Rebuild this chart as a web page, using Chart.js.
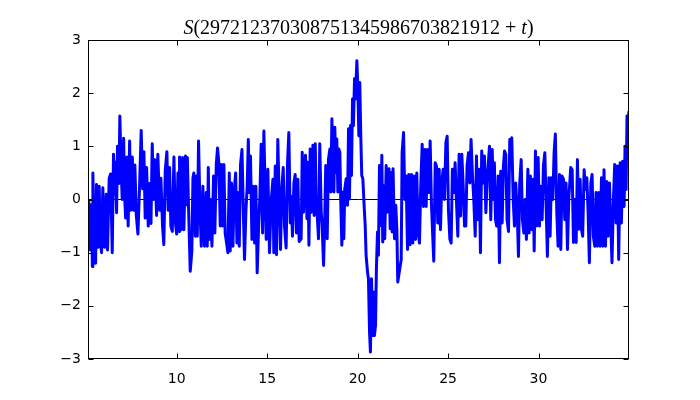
<!DOCTYPE html>
<html>
<head>
<meta charset="utf-8">
<script src="https://cdn.jsdelivr.net/npm/chart.js@4"></script>
<style>
  body { margin: 0; background: #fff; }
</style>
</head>
<body>
<canvas id="sChart" width="700" height="400"></canvas>
<script>
// t offsets and S values
const tValues = [
  5.1, 5.15, 5.23, 5.30, 5.34, 5.37, 5.45, 5.52, 5.57, 5.67, 5.72, 5.78, 5.85, 5.92, 6.02, 6.11, 6.18, 6.27, 6.35, 6.44,
  6.51, 6.59, 6.62, 6.68, 6.73, 6.81, 6.86, 6.94, 6.99, 7.07, 7.12, 7.18, 7.25, 7.32, 7.40, 7.47, 7.55, 7.62, 7.69, 7.77,
  7.86, 7.95, 8.04, 8.12, 8.19, 8.26, 8.34, 8.43, 8.50, 8.58, 8.65, 8.72, 8.80, 8.89, 8.96, 9.06, 9.13, 9.22, 9.29, 9.37,
  9.46, 9.53, 9.61, 9.68, 9.76, 9.85, 9.92, 10.00, 10.07, 10.14,
  10.16, 10.25, 10.33, 10.40, 10.49, 10.54, 10.59, 10.66, 10.75, 10.84, 10.90, 10.95, 11.03, 11.10, 11.14, 11.21, 11.29, 11.36, 11.45, 11.54,
  11.64, 11.69, 11.75, 11.80, 11.87, 11.95, 12.04, 12.11, 12.19, 12.26, 12.33, 12.41, 12.46, 12.54, 12.61, 12.68, 12.76, 12.83, 12.91, 12.96,
  13.03, 13.11, 13.18, 13.26, 13.33, 13.38, 13.46, 13.53, 13.61, 13.68, 13.75, 13.83, 13.90, 13.96, 14.01, 14.08, 14.16, 14.23, 14.31, 14.38,
  14.45, 14.53, 14.60, 14.67, 14.75, 14.82,
  14.95, 15.04, 15.13, 15.23, 15.32, 15.37, 15.45, 15.52, 15.59, 15.67, 15.74, 15.81, 15.89, 15.96, 16.05, 16.13, 16.20, 16.28, 16.33, 16.40,
  16.48, 16.55, 16.62, 16.70, 16.77,
  16.88, 16.94, 17.01, 17.07, 17.12, 17.20, 17.25, 17.31, 17.38, 17.45, 17.53, 17.60, 17.66, 17.71, 17.77, 17.84, 17.91, 17.99, 18.04, 18.12,
  18.19, 18.24, 18.32, 18.39, 18.47, 18.52, 18.58, 18.63, 18.69, 18.74, 18.80, 18.85, 18.91, 18.96, 19.02, 19.07, 19.13, 19.18, 19.24, 19.29,
  19.37, 19.44, 19.50, 19.55, 19.61, 19.66, 19.72, 19.77, 19.83, 19.88, 19.96, 20.01, 20.07, 20.12, 20.18, 20.23, 20.29, 20.36, 20.42, 20.47,
  20.55, 20.60, 20.66, 20.71, 20.77, 20.82, 20.88, 20.93, 20.99, 21.04, 21.10, 21.15, 21.21, 21.27, 21.34, 21.39, 21.45, 21.50, 21.58, 21.63,
  21.69, 21.74, 21.80, 21.85, 21.91, 21.96, 22.04, 22.11, 22.17, 22.22,
  22.41, 22.46, 22.54, 22.61, 22.68, 22.76, 22.83, 22.90, 22.98, 23.05, 23.13, 23.20, 23.27, 23.35, 23.42, 23.49, 23.57, 23.64, 23.72, 23.79,
  23.86, 23.94, 24.01, 24.08, 24.16, 24.21, 24.29, 24.36, 24.43, 24.51, 24.58, 24.65, 24.73, 24.80, 24.88, 24.95, 25.02, 25.10, 25.17, 25.24,
  25.32, 25.39, 25.46, 25.54, 25.61, 25.69, 25.76, 25.83, 25.91, 25.98, 26.05, 26.13, 26.20, 26.27, 26.35, 26.42, 26.50, 26.57, 26.64, 26.72,
  26.79, 26.86, 26.94, 27.01, 27.09, 27.16,
  27.29, 27.36, 27.44, 27.51, 27.56, 27.62, 27.69, 27.77, 27.84, 27.91, 27.99, 28.06, 28.12, 28.19, 28.26, 28.34, 28.41, 28.47, 28.52, 28.60,
  28.67, 28.74, 28.82, 28.89, 28.96, 29.04, 29.11, 29.19, 29.26, 29.33, 29.41, 29.48, 29.55, 29.63, 29.70, 29.76, 29.83, 29.90, 29.98, 30.05,
  30.12, 30.20, 30.27, 30.35, 30.42, 30.49, 30.57, 30.64, 30.71, 30.79, 30.86, 30.93, 31.01, 31.08, 31.16, 31.23, 31.30, 31.38, 31.45, 31.52,
  31.60, 31.67,
  31.78, 31.86, 31.93, 32.00, 32.08, 32.15, 32.22, 32.30, 32.37, 32.44, 32.52, 32.59, 32.67, 32.74, 32.81, 32.89, 32.96, 33.03, 33.11, 33.18,
  33.25, 33.33, 33.40, 33.48, 33.55, 33.62, 33.70, 33.77, 33.84, 33.92, 33.99, 34.06, 34.14, 34.21, 34.29, 34.36, 34.43, 34.51, 34.58, 34.65,
  34.73, 34.78, 34.84, 34.89, 34.95, 34.99
];
const sValues = [
  -0.05, -0.1, -0.95, -0.1, -1.26, 0.5, -0.8, -1.2, 0.28, -0.9, 0.25, -0.75, -1.0, 0.22, -0.9, 0.1, -0.95, 0.4, 0.48, -1.0,
  0.85, 0.1, 0.7, -0.25, 1.0, 0.3, 1.57, 0.5, 0.0, 1.15, 0.1, -0.35, 0.8, -0.5, 1.1, -0.2, 0.8, -0.2, 0.65, -0.3,
  -0.65, 0.25, 1.3, 0.2, 0.9, -0.35, 0.6, -0.5, 0.3, -0.45, 1.05, 0.0, 0.75, -0.3, 0.85, -0.2, 0.4, -0.5, -0.85, 0.55,
  0.9, -0.2, 0.6, -0.5, -0.6, 0.8, -0.4, -0.65, 0.5, -0.6,
  0.8, -0.57, 0.79, -0.57, 0.82, -0.1, 0.79, -0.19, -1.35, -0.97, 0.41, 0.5, -0.69, 0.44, -0.69, 1.1, -0.19, -0.88, 0.25, -0.88,
  0.13, -0.88, 0.6, -0.75, 0.0, -0.88, 0.44, -0.63, 0.66, 0.97, 0.69, -0.5, 0.66, -0.5, 0.66, -0.63, -0.82, -1.0, 0.5, -0.97,
  0.31, -0.88, 0.16, 0.5, -0.82, 0.13, -0.88, 0.66, 0.94, -0.13, -1.13, -0.19, 0.25, 1.13, 0.13, 0.82, -0.75, 0.25, -0.82, 0.25,
  -1.38, -0.5, 0.06, 1.04, -0.63, 1.29,
  -0.75, 0.57, -1.0, 0.0, 0.38, -1.0, 0.63, -1.04, 1.13, 0.0, -0.94, 0.19, 0.6, -0.5, -0.91, 0.72, 1.26, -0.44, 0.06, -0.69,
  0.31, 0.47, -0.63, 0.38, -0.79,
  -0.74, 0.89, -0.24, 0.45, 0.83, -0.36, 0.70, -0.86, 0.95, -0.24, 1.02, -0.30, 1.05, -0.11, -0.30, -0.74, 1.05, -0.24, -0.49, -1.24,
  -0.24, 0.64, -0.74, 0.76, 0.95, 0.14, 1.52, 0.64, 0.14, 1.36, 0.51, 1.14, 0.14, 0.95, 0.89, -0.05, -0.86, 0.14, -0.74, 0.2,
  0.39, -0.11, 1.33, 0.01, 1.39, 0.45, 1.89, 1.39, 2.27, 1.89, 2.61, 2.14, 1.2, 2.2, 1.14, 0.45, 0.39, -0.11, -0.49, -1.05,
  -1.37, -1.49, -2.49, -2.87, -1.49, -2.56, -1.74, -2.56, -2.37, -1.3, -0.61, -1.05, 0.64, -0.49, 0.83, -0.80, 0.26, -0.74, 0.64, -0.24,
  0.51, 0.58, -0.55, 0.51, -0.61, 0.58, -0.74, -0.11, -0.55, -1.55,
  -1.13, 0.88, 1.26, 0.0, 0.44, -0.94, 0.47, -0.85, 0.47, -0.82, 0.44, -0.75, 0.5, -0.63, -0.82, 0.25, 1.04, -0.13, 0.94, -0.13,
  0.94, 0.13, 1.1, -0.06, -0.75, -1.16, 0.69, 0.63, -0.44, 0.57, -0.57, 0.31, 0.57, 0.0, 1.07, 1.19, -0.19, -0.75, -0.82, 0.57,
  0.13, 0.69, 0.0, -0.69, 0.85, -0.31, 0.85, 0.31, -0.5, -0.5, 0.63, 0.88, 0.31, 1.13, 0.44, 0.0, -0.69, 0.82, -0.38, 0.57,
  -1.0, 0.91, 0.31, 0.82, -0.25, 0.38,
  1.0, -0.38, 0.94, 0.0, 0.69, -0.38, -0.5, 0.44, -1.19, 0.53, -0.44, 0.63, 0.91, 0.85, -0.38, -0.6, 1.13, 0.72, 1.16, 0.0,
  -0.5, 0.31, -0.19, -1.07, 0.31, 0.75, -0.38, -0.63, 0.0, -0.75, 0.57, -0.63, 0.44, -0.57, 0.38, -0.97, 0.91, -0.5, 0.79, -0.5,
  0.25, -0.38, 0.63, 0.88, -0.13, -1.07, 0.41, -0.69, 0.41, 0.0, 0.88, 1.23, -0.25, -0.88, 0.47, -0.94, 0.44, 0.38, -0.38, 0.31,
  -0.94, 0.0,
  0.6, 0.56, -0.81, 0.0, -0.81, 0.75, -0.56, 0.38, -0.56, -0.69, 0.56, 0.19, 0.41, -0.25, -1.19, 0.31, 0.47, -0.69, -0.88, 0.13,
  -0.88, 0.13, -0.88, 0.41, -0.88, 0.56, -0.88, 0.34, -0.69, 0.31, -0.44, -1.19, 0.0, 0.66, -0.44, 0.63, -1.13, 0.69, -0.44, 0.72,
  -0.13, 1.0, 0.19, 1.57, 1.07, 1.66
];
const zeroLine = [5.1, 35];
const xTicks = [10, 15, 20, 25, 30];
const yTicks = [-3, -2, -1, 0, 1, 2, 3];
const titleParts = [
  { text: "S", italic: true },
  { text: "(297212370308751345986703821912 + ", italic: false },
  { text: "t", italic: true },
  { text: ")", italic: false },
];

const points = tValues.map((t, i) => ({ x: t, y: sValues[i] }));
const tickFont = { family: "'DejaVu Sans'", size: 14 };

// matplotlib classic look: closed frame, inward ticks on all sides, mathtext title
const frameAndTitle = {
  id: "frameAndTitle",
  afterDraw(chart) {
    const { ctx, chartArea: a, scales } = chart;
    const left = Math.round(a.left) + 0.5;
    const right = Math.round(a.right) - 0.5;
    const top = Math.round(a.top) + 0.5;
    const bottom = Math.round(a.bottom) - 0.5;
    ctx.save();
    ctx.strokeStyle = "#000";
    ctx.lineWidth = 1;
    ctx.strokeRect(left, top, right - left, bottom - top);
    ctx.beginPath();
    xTicks.forEach((v) => {
      const px = Math.round(scales.x.getPixelForValue(v)) + 0.5;
      ctx.moveTo(px, bottom); ctx.lineTo(px, bottom - 5);
      ctx.moveTo(px, top); ctx.lineTo(px, top + 5);
    });
    yTicks.forEach((v) => {
      const py = Math.round(scales.y.getPixelForValue(v)) + 0.5;
      ctx.moveTo(left, py); ctx.lineTo(left + 5, py);
      ctx.moveTo(right, py); ctx.lineTo(right - 5, py);
    });
    ctx.stroke();

    const fontFor = (p) => (p.italic ? "italic " : "") + "20px 'Liberation Serif'";
    let total = 0;
    titleParts.forEach((p) => { ctx.font = fontFor(p); total += ctx.measureText(p.text).width; });
    let x = (a.left + a.right) / 2 - total / 2;
    ctx.fillStyle = "#000";
    ctx.textBaseline = "alphabetic";
    titleParts.forEach((p) => {
      ctx.font = fontFor(p);
      ctx.fillText(p.text, x, a.top - 6);
      x += ctx.measureText(p.text).width;
    });
    ctx.restore();
  },
};

function chart() {
  const ctx = document.getElementById("sChart").getContext("2d");
  new Chart(ctx, {
    type: "line",
    data: {
      datasets: [
        {
          data: points,
          borderColor: "#0000ff",
          borderWidth: 3,
          borderJoinStyle: "round",
          pointRadius: 0,
          tension: 0,
          order: 0,
        },
        {
          data: zeroLine.map((t) => ({ x: t, y: 0 })),
          borderColor: "#000",
          borderWidth: 1,
          pointRadius: 0,
          order: 1,
        },
      ],
    },
    options: {
      animation: false,
      responsive: false,
      events: [],
      layout: { padding: { top: 40, right: 71, left: 0, bottom: 0 } },
      plugins: { legend: { display: false }, tooltip: { enabled: false } },
      scales: {
        x: {
          type: "linear",
          min: 5.1,
          max: 35,
          afterBuildTicks: (s) => { s.ticks = xTicks.map((v) => ({ value: v })); },
          afterFit: (s) => { s.height = 41; },
          grid: { display: false, drawTicks: false },
          border: { display: false },
          ticks: { font: tickFont, color: "#000", padding: 12, maxRotation: 0 },
        },
        y: {
          type: "linear",
          min: -3,
          max: 3,
          afterBuildTicks: (s) => { s.ticks = yTicks.map((v) => ({ value: v })); },
          afterFit: (s) => { s.width = 88; },
          grid: { display: false, drawTicks: false },
          border: { display: false },
          ticks: {
            font: tickFont,
            color: "#000",
            padding: 7,
            callback: (v) => String(v).replace("-", "\u2212"),
          },
        },
      },
    },
    plugins: [frameAndTitle],
  });
}
chart();
</script>
</body>
</html>
